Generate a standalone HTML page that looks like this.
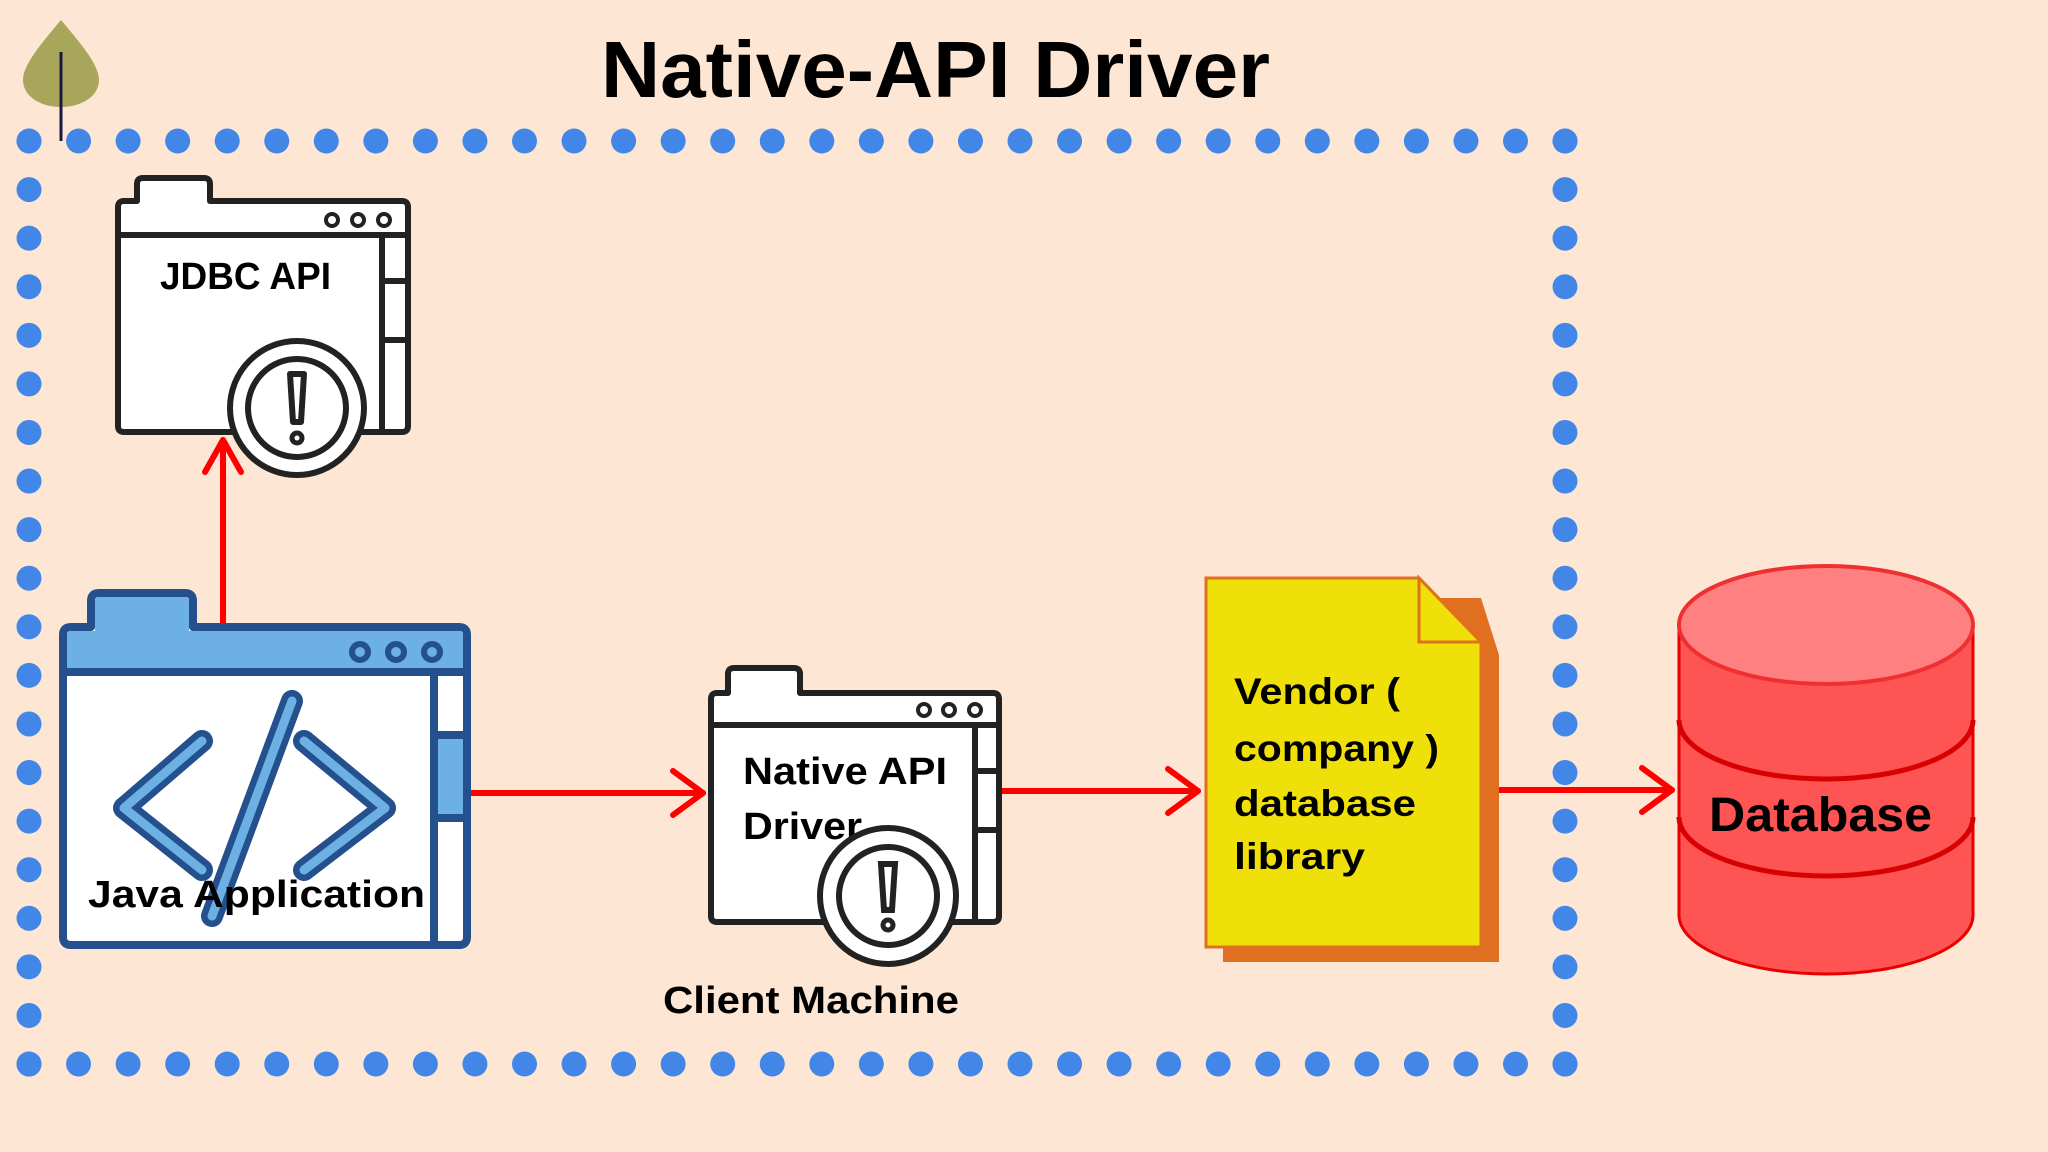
<!DOCTYPE html>
<html><head><meta charset="utf-8"><style>
html,body{margin:0;padding:0;background:#fde6d4;}
svg{display:block;}
text{font-family:"Liberation Sans",sans-serif;font-weight:bold;fill:#000;}
</style></head><body>
<svg width="2048" height="1152" viewBox="0 0 2048 1152" xmlns="http://www.w3.org/2000/svg">
<rect width="2048" height="1152" fill="#fde6d4"/>
<path d="M61,20 C40,45 23,65 23,80 C23,96 40,107 61,107 C82,107 99,96 99,80 C99,65 82,45 61,20 Z" fill="#a8a65a"/>
<line x1="61" y1="52" x2="61" y2="141" stroke="#1a1a40" stroke-width="3"/>
<text x="601" y="97" font-size="80" textLength="669" lengthAdjust="spacingAndGlyphs">Native-API Driver</text>
<g stroke="#4287e8" stroke-width="25" stroke-linecap="round" fill="none">
<line x1="29" y1="141" x2="1567" y2="141" stroke-dasharray="0 49.55"/>
<line x1="29" y1="1064" x2="1567" y2="1064" stroke-dasharray="0 49.55"/>
<line x1="29" y1="141" x2="29" y2="1066" stroke-dasharray="0 48.58"/>
<line x1="1565" y1="141" x2="1565" y2="1066" stroke-dasharray="0 48.58"/>
</g>
<g stroke="#f00" stroke-width="6" fill="none" stroke-linecap="round" stroke-linejoin="round">
<line x1="223" y1="627" x2="223" y2="440"/>
<polyline points="205,472 223,440 241,472"/>
<line x1="467" y1="793" x2="703" y2="793"/>
<polyline points="673,771 703,793 673,815"/>
<line x1="999" y1="791" x2="1198" y2="791"/>
<polyline points="1168,769 1198,791 1168,813"/>
<line x1="1499" y1="790" x2="1672" y2="790"/>
<polyline points="1642,768 1672,790 1642,812"/>
</g>
<g stroke="#222" stroke-width="6" stroke-linejoin="round">
<path d="M118,207 Q118,201 124,201 L137,201 L137,184 Q137,178 143,178 L204,178 Q210,178 210,184 L210,201 L402,201 Q408,201 408,207 L408,426 Q408,432 402,432 L124,432 Q118,432 118,426 Z" fill="#fff"/>
<line x1="118" y1="235" x2="408" y2="235"/>
<line x1="382" y1="235" x2="382" y2="432"/>
<line x1="382" y1="281" x2="408" y2="281"/>
<line x1="382" y1="340" x2="408" y2="340"/>
<circle cx="332" cy="220" r="6" fill="none" stroke-width="4"/>
<circle cx="358" cy="220" r="6" fill="none" stroke-width="4"/>
<circle cx="384" cy="220" r="6" fill="none" stroke-width="4"/>
<circle cx="297" cy="408" r="67" fill="#fff"/>
<circle cx="297" cy="408" r="49" fill="#fff"/>
<path d="M290,374 L304,374 L301,422 L293,422 Z" fill="#fff" stroke-width="6"/>
<circle cx="297" cy="438" r="5" fill="#fff" stroke-width="5"/>
</g>
<text x="160" y="289" font-size="38" textLength="171" lengthAdjust="spacingAndGlyphs">JDBC API</text>
<g stroke="#24508e" stroke-width="8" stroke-linejoin="round">
<path d="M63,635 Q63,627 71,627 L91,627 L91,601 Q91,593 99,593 L185,593 Q193,593 193,601 L193,627 L459,627 Q467,627 467,635 L467,937 Q467,945 459,945 L71,945 Q63,945 63,937 Z" fill="#fff"/>
<path d="M67,672 L67,635 Q67,631 71,631 L95,631 L95,601 Q95,597 99,597 L185,597 Q189,597 189,601 L189,631 L459,631 Q463,631 463,635 L463,672 Z" fill="#6cb0e4" stroke="none"/>
<line x1="63" y1="672" x2="467" y2="672"/>
<line x1="434" y1="672" x2="434" y2="945"/>
<rect x="434" y="735" width="33" height="83" fill="#6cb0e4"/>
<circle cx="360" cy="652" r="8" fill="#6cb0e4" stroke-width="6"/>
<circle cx="396" cy="652" r="8" fill="#6cb0e4" stroke-width="6"/>
<circle cx="432" cy="652" r="8" fill="#6cb0e4" stroke-width="6"/>
</g>
<g fill="none" stroke-linecap="round" stroke-linejoin="round">
<g stroke="#24508e" stroke-width="22">
<polyline points="202,741 124,808 202,870"/>
<polyline points="304,741 385,808 304,870"/>
<line x1="292" y1="701" x2="212" y2="916"/>
</g>
<g stroke="#6cb0e4" stroke-width="9">
<polyline points="202,741 124,808 202,870"/>
<polyline points="304,741 385,808 304,870"/>
<line x1="292" y1="701" x2="212" y2="916"/>
</g>
</g>
<text x="88" y="907" font-size="38" textLength="337" lengthAdjust="spacingAndGlyphs">Java Application</text>
<g stroke="#222" stroke-width="6" stroke-linejoin="round">
<path d="M711,699 Q711,693 717,693 L728,693 L728,674 Q728,668 734,668 L794,668 Q800,668 800,674 L800,693 L993,693 Q999,693 999,699 L999,916 Q999,922 993,922 L717,922 Q711,922 711,916 Z" fill="#fff"/>
<line x1="711" y1="725" x2="999" y2="725"/>
<line x1="975" y1="725" x2="975" y2="922"/>
<line x1="975" y1="771" x2="999" y2="771"/>
<line x1="975" y1="830" x2="999" y2="830"/>
<circle cx="924" cy="710" r="6" fill="none" stroke-width="4"/>
<circle cx="949" cy="710" r="6" fill="none" stroke-width="4"/>
<circle cx="975" cy="710" r="6" fill="none" stroke-width="4"/>
</g>
<text x="743" y="784" font-size="38" textLength="204" lengthAdjust="spacingAndGlyphs">Native API</text>
<text x="743" y="839" font-size="38" textLength="119" lengthAdjust="spacingAndGlyphs">Driver</text>
<g stroke="#222" stroke-width="6">
<circle cx="888" cy="896" r="68" fill="#fff"/>
<circle cx="888" cy="896" r="49" fill="#fff"/>
<path d="M881,864 L895,864 L892,910 L884,910 Z" fill="#fff" stroke-width="6"/>
<circle cx="888" cy="925" r="5" fill="#fff" stroke-width="5"/>
</g>
<text x="663" y="1013" font-size="38" textLength="296" lengthAdjust="spacingAndGlyphs">Client Machine</text>
<path d="M1223,598 L1481,598 L1499,655 L1499,962 L1223,962 Z" fill="#e07020"/>
<path d="M1206,578 L1419,578 L1481,642 L1481,947 L1206,947 Z" fill="#f0e00a" stroke="#e07020" stroke-width="3"/>
<path d="M1419,578 L1419,642 L1481,642 Z" fill="#f0e00a" stroke="#e07020" stroke-width="3"/>
<text x="1234" y="704" font-size="37" textLength="166" lengthAdjust="spacingAndGlyphs">Vendor (</text>
<text x="1234" y="761" font-size="37" textLength="205" lengthAdjust="spacingAndGlyphs">company )</text>
<text x="1234" y="816" font-size="37" textLength="182" lengthAdjust="spacingAndGlyphs">database</text>
<text x="1234" y="869" font-size="37" textLength="131" lengthAdjust="spacingAndGlyphs">library</text>
<path d="M1679,625 L1679,915 A147,59 0 0 0 1973,915 L1973,625 Z" fill="#fe5454" stroke="#e80000" stroke-width="3"/>
<path d="M1679,720 A147,59 0 0 0 1973,720" fill="none" stroke="#d80000" stroke-width="5"/>
<path d="M1679,817 A147,59 0 0 0 1973,817" fill="none" stroke="#d80000" stroke-width="5"/>
<ellipse cx="1826" cy="625" rx="147" ry="59" fill="#ff8080" stroke="#f03030" stroke-width="4"/>
<text x="1709" y="831" font-size="48" textLength="223" lengthAdjust="spacingAndGlyphs">Database</text>
</svg>
</body></html>
